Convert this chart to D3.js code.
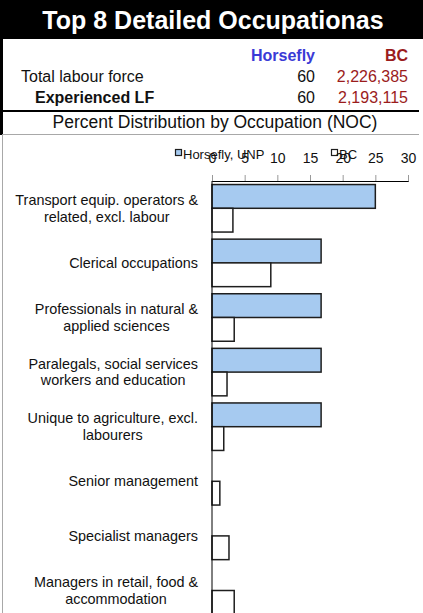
<!DOCTYPE html>
<html>
<head>
<meta charset="utf-8">
<script src="https://cdn.jsdelivr.net/npm/d3@7"></script>
<style>
  body { margin: 0; background: #fff; }
  svg { display: block; font-family: "Liberation Sans", Arial, sans-serif; }
</style>
</head>
<body>
<svg id="chart"></svg>
<script>
//
// Data
//
const titleText = 'Top 8 Detailed Occupationas';
const subTitle = 'Percent Distribution by Occupation (NOC)';
const areaNames = ['Horsefly', 'BC'];
const rowLabels = ['Total labour force', 'Experienced LF'];
const horseflyCounts = [60, 60];
const bcCounts = [2226385, 2193115];

const categories = [
  'Transport equip. operators & related, excl. labour',
  'Clerical occupations',
  'Professionals in natural & applied sciences',
  'Paralegals, social services workers and education',
  'Unique to agriculture, excl. labourers',
  'Senior management',
  'Specialist managers',
  'Managers in retail, food & accommodation'
];
// label line breaks as in the original
const labelLines = [
  ['Transport equip. operators &', 'related, excl. labour'],
  ['Clerical occupations'],
  ['Professionals in natural &', 'applied sciences'],
  ['Paralegals, social services', 'workers and education'],
  ['Unique to agriculture, excl.', 'labourers'],
  ['Senior management'],
  ['Specialist managers'],
  ['Managers in retail, food &', 'accommodation']
];
const seriesNames = ['Horsefly, UNP', 'BC'];
const horseflyPct = [25, 16.7, 16.7, 16.7, 16.7, 0, 0, 0];
const bcPct = [3.2, 9.0, 3.4, 2.3, 1.8, 1.2, 2.6, 3.4];
const xTicks = [0, 5, 10, 15, 20, 25, 30];

//
// Set-up
//
const W = 423, H = 613;
const blueFill = '#a6caf0';
const barStroke = '#1e1e1e';
const redText = '#9b1c1c';

const svg = d3.select('#chart').attr('width', W).attr('height', H);

// Header block
svg.append('rect').attr('x', 0).attr('y', 0).attr('width', W).attr('height', 39).attr('fill', '#000');
svg.append('text')
  .attr('x', 213).attr('y', 29)
  .attr('text-anchor', 'middle')
  .style('font-size', '25px').style('font-weight', 'bold')
  .attr('fill', '#fff')
  .text(titleText);

// left border of header
svg.append('rect').attr('x', 0).attr('y', 39).attr('width', 3).attr('height', 96).attr('fill', '#000');

svg.append('text').attr('x', 315).attr('y', 61).attr('text-anchor', 'end')
  .style('font-size', '16px').style('font-weight', 'bold').attr('fill', '#3a3ad6')
  .text(areaNames[0]);
svg.append('text').attr('x', 408).attr('y', 61).attr('text-anchor', 'end')
  .style('font-size', '16px').style('font-weight', 'bold').attr('fill', redText)
  .text(areaNames[1]);

const fmt = d3.format(',');
rowLabels.forEach((lab, i) => {
  const y = 82 + i * 21;
  svg.append('text').attr('x', i === 0 ? 21 : 35).attr('y', y)
    .style('font-size', '16px').style('font-weight', i === 0 ? 'normal' : 'bold')
    .attr('fill', '#111').text(lab);
  svg.append('text').attr('x', 315).attr('y', y).attr('text-anchor', 'end')
    .style('font-size', '16px').attr('fill', '#111').text(horseflyCounts[i]);
  svg.append('text').attr('x', 408).attr('y', y).attr('text-anchor', 'end')
    .style('font-size', '16px').attr('fill', redText).text(fmt(bcCounts[i]));
});

svg.append('rect').attr('x', 0).attr('y', 110).attr('width', 419).attr('height', 2).attr('fill', '#000');

svg.append('text').attr('x', 215).attr('y', 128).attr('text-anchor', 'middle')
  .style('font-size', '17.5px').attr('fill', '#111').text(subTitle);

// chart area border (grey)
svg.append('line').attr('x1', 2).attr('x2', 419).attr('y1', 134.5).attr('y2', 134.5)
  .attr('stroke', '#a8a8a8');
svg.append('line').attr('x1', 2.5).attr('x2', 2.5).attr('y1', 134).attr('y2', H)
  .attr('stroke', '#a8a8a8');

//
// Scales
//
const axisY = 181;
const xScale = d3.scaleLinear().domain([0, 30]).range([212, 408]);
const yScale = d3.scaleBand()
  .domain(categories)
  .range([axisY, axisY + 8 * 54.6])
  .paddingInner(0.13)
  .paddingOuter(0.065);
const ySub = d3.scaleBand().domain(seriesNames).range([0, yScale.bandwidth()]);

// legend (sits in the same row as the tick labels, like the original)
const legendItems = [
  { name: seriesNames[0], x: 175, fill: blueFill },
  { name: seriesNames[1], x: 331, fill: '#fff' }
];
const legend = svg.append('g').attr('class', 'legend');
legendItems.forEach(d => {
  legend.append('rect').attr('x', d.x + 0.5).attr('y', 149.5).attr('width', 6).attr('height', 6)
    .attr('fill', d.fill).attr('stroke', barStroke).attr('stroke-width', 1.2);
  legend.append('text').attr('x', d.x + 8).attr('y', 159)
    .style('font-size', '13px').attr('fill', '#111').text(d.name);
});

// top axis
const xAxis = d3.axisTop(xScale).tickValues(xTicks).tickSize(6).tickPadding(12);
const gx = svg.append('g').attr('transform', `translate(0,${axisY})`).call(xAxis);
gx.select('.domain').attr('stroke', '#000');
gx.selectAll('.tick line').attr('stroke', '#999');
gx.selectAll('.tick text')
  .style('font-size', '14px').attr('fill', '#111')
  .style('font-family', '"Liberation Sans", Arial, sans-serif');

//
// Bars
//
const rows = categories.map((c, i) => ({ cat: c, vals: [horseflyPct[i], bcPct[i]] }));
const groups = svg.append('g').selectAll('g.row')
  .data(rows).enter().append('g')
  .attr('transform', d => `translate(0,${yScale(d.cat)})`);

groups.selectAll('rect')
  .data(d => d.vals.map((v, j) => ({ v, s: seriesNames[j] })).filter(e => e.v > 0))
  .enter().append('rect')
  .attr('x', xScale(0))
  .attr('y', d => ySub(d.s))
  .attr('width', d => xScale(d.v) - xScale(0))
  .attr('height', ySub.bandwidth())
  .attr('fill', d => d.s === seriesNames[0] ? blueFill : '#fff')
  .attr('stroke', barStroke)
  .attr('stroke-width', 1.5);

// zero line
svg.append('line').attr('x1', xScale(0)).attr('x2', xScale(0))
  .attr('y1', axisY).attr('y2', H).attr('stroke', '#000');

//
// Category labels (wrapped, centred lines, right-aligned block)
//
const labelRight = 198;
const lineH = 16.5;
const labG = svg.append('g').style('font-size', '14.4px').attr('fill', '#111');
labelLines.forEach((lines, i) => {
  const cy = yScale(categories[i]) + yScale.bandwidth() / 2;
  const tmp = lines.map(l => labG.append('text').text(l));
  const maxW = d3.max(tmp, t => t.node().getComputedTextLength());
  const cx = labelRight - maxW / 2;
  tmp.forEach((t, k) => {
    const off = (k - (lines.length - 1) / 2) * lineH;
    t.attr('x', cx).attr('y', cy + off).attr('dy', '0.35em').attr('text-anchor', 'middle');
  });
});
</script>
</body>
</html>
